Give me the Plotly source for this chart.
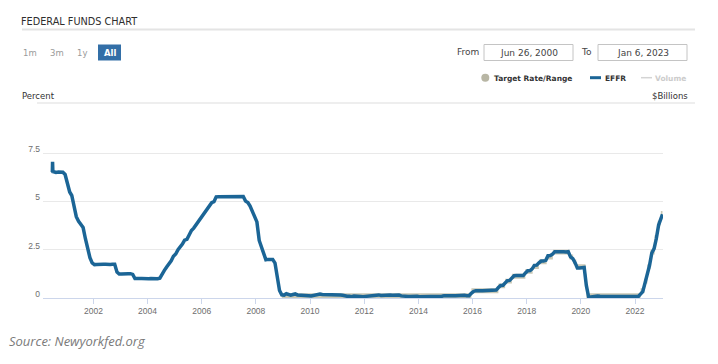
import plotly.graph_objects as go
import pandas as pd

# ---------------- data ----------------
# EFFR: opening days of the series (quarter-end spike)
effr_head_dates = ["2000-06-26", "2000-06-29", "2000-07-03"]
effr_head_values = [6.52, 7.05, 6.55]

# EFFR monthly readings (mid-month), Jul 2000 .. Dec 2022
effr_monthly_first = "2000-07-01"
effr_monthly_values = [
    6.54, 6.50, 6.52, 6.51, 6.51, 6.40,                                   # 2000 Jul-Dec
    5.98, 5.49, 5.31, 4.80, 4.21, 3.97, 3.77, 3.65, 3.07, 2.49, 2.09, 1.82,  # 2001
    1.73, 1.74, 1.73, 1.75, 1.75, 1.75, 1.73, 1.74, 1.75, 1.75, 1.34, 1.24,  # 2002
    1.24, 1.26, 1.25, 1.26, 1.26, 1.22, 1.01, 1.03, 1.01, 1.01, 1.00, 0.98,  # 2003
    1.00, 1.01, 1.00, 1.00, 1.00, 1.03, 1.26, 1.43, 1.61, 1.76, 1.93, 2.16,  # 2004
    2.28, 2.50, 2.63, 2.79, 3.00, 3.04, 3.26, 3.50, 3.62, 3.78, 4.00, 4.16,  # 2005
    4.29, 4.49, 4.59, 4.79, 4.94, 4.99, 5.24, 5.25, 5.25, 5.25, 5.25, 5.24,  # 2006
    5.25, 5.26, 5.26, 5.25, 5.25, 5.25, 5.26, 5.02, 4.94, 4.76, 4.49, 4.24,  # 2007
    3.94, 2.98, 2.61, 2.28, 1.98, 2.00, 2.01, 2.00, 1.81, 0.97, 0.39, 0.16,  # 2008
    0.15, 0.22, 0.18, 0.15, 0.18, 0.21, 0.16, 0.16, 0.15, 0.12, 0.12, 0.12,  # 2009
    0.11, 0.13, 0.16, 0.20, 0.20, 0.18, 0.18, 0.19, 0.19, 0.19, 0.19, 0.18,  # 2010
    0.17, 0.16, 0.14, 0.10, 0.09, 0.09, 0.07, 0.10, 0.08, 0.07, 0.08, 0.07,  # 2011
    0.08, 0.10, 0.13, 0.14, 0.16, 0.16, 0.16, 0.13, 0.14, 0.16, 0.16, 0.16,  # 2012
    0.14, 0.15, 0.14, 0.15, 0.11, 0.09, 0.09, 0.08, 0.08, 0.09, 0.08, 0.09,  # 2013
    0.07, 0.07, 0.08, 0.09, 0.09, 0.10, 0.09, 0.09, 0.09, 0.09, 0.09, 0.12,  # 2014
    0.11, 0.11, 0.11, 0.12, 0.12, 0.13, 0.13, 0.14, 0.14, 0.12, 0.12, 0.24,  # 2015
    0.34, 0.38, 0.36, 0.37, 0.37, 0.38, 0.39, 0.40, 0.40, 0.40, 0.41, 0.54,  # 2016
    0.65, 0.66, 0.79, 0.90, 0.91, 1.04, 1.15, 1.16, 1.15, 1.15, 1.16, 1.30,  # 2017
    1.41, 1.42, 1.51, 1.69, 1.70, 1.82, 1.91, 1.91, 1.95, 2.19, 2.20, 2.27,  # 2018
    2.40, 2.40, 2.41, 2.42, 2.39, 2.38, 2.40, 2.13, 2.04, 1.83, 1.55, 1.55,  # 2019
    1.55, 1.58, 0.65, 0.05, 0.05, 0.08, 0.09, 0.10, 0.09, 0.09, 0.09, 0.09,  # 2020
    0.09, 0.08, 0.07, 0.07, 0.06, 0.08, 0.10, 0.09, 0.08, 0.08, 0.08, 0.08,  # 2021
    0.08, 0.08, 0.20, 0.33, 0.77, 1.21, 1.68, 2.33, 2.56, 3.08, 3.78, 4.10,  # 2022
]
effr_tail_dates = ["2023-01-06"]
effr_tail_values = [4.33]

# Target rate / range (step changes)
target_dates = [
    "2000-06-26", "2001-01-03", "2001-01-31", "2001-03-20", "2001-04-18", "2001-05-15",
    "2001-06-27", "2001-08-21", "2001-09-17", "2001-10-02", "2001-11-06", "2001-12-11",
    "2002-11-06", "2003-06-25", "2004-06-30", "2004-08-10", "2004-09-21", "2004-11-10",
    "2004-12-14", "2005-02-02", "2005-03-22", "2005-05-03", "2005-06-30", "2005-08-09",
    "2005-09-20", "2005-11-01", "2005-12-13", "2006-01-31", "2006-03-28", "2006-05-10",
    "2006-06-29", "2007-09-18", "2007-10-31", "2007-12-11", "2008-01-22", "2008-01-30",
    "2008-03-18", "2008-04-30", "2008-10-08", "2008-10-29", "2008-12-16", "2015-12-17",
    "2016-12-15", "2017-03-16", "2017-06-15", "2017-12-14", "2018-03-22", "2018-06-14",
    "2018-09-27", "2018-12-20", "2019-08-01", "2019-09-19", "2019-10-31", "2020-03-04",
    "2020-03-16", "2022-03-17", "2022-05-05", "2022-06-16", "2022-07-28", "2022-09-22",
    "2022-11-03", "2022-12-15", "2023-01-06",
]
target_low = [
    6.50, 6.00, 5.50, 5.00, 4.50, 4.00, 3.75, 3.50, 3.00, 2.50, 2.00, 1.75,
    1.25, 1.00, 1.25, 1.50, 1.75, 2.00, 2.25, 2.50, 2.75, 3.00, 3.25, 3.50,
    3.75, 4.00, 4.25, 4.50, 4.75, 5.00, 5.25, 4.75, 4.50, 4.25, 3.50, 3.00,
    2.25, 2.00, 1.50, 1.00, 0.00, 0.25, 0.50, 0.75, 1.00, 1.25, 1.50, 1.75,
    2.00, 2.25, 2.00, 1.75, 1.50, 1.00, 0.00, 0.25, 0.75, 1.50, 2.25, 3.00,
    3.75, 4.25, 4.25,
]
target_high = [
    6.50, 6.00, 5.50, 5.00, 4.50, 4.00, 3.75, 3.50, 3.00, 2.50, 2.00, 1.75,
    1.25, 1.00, 1.25, 1.50, 1.75, 2.00, 2.25, 2.50, 2.75, 3.00, 3.25, 3.50,
    3.75, 4.00, 4.25, 4.50, 4.75, 5.00, 5.25, 4.75, 4.50, 4.25, 3.50, 3.00,
    2.25, 2.00, 1.50, 1.00, 0.25, 0.50, 0.75, 1.00, 1.25, 1.50, 1.75, 2.00,
    2.25, 2.50, 2.25, 2.00, 1.75, 1.25, 0.25, 0.50, 1.00, 1.75, 2.50, 3.25,
    4.00, 4.50, 4.50,
]

x_tick_years = [2002, 2004, 2006, 2008, 2010, 2012, 2014, 2016, 2018, 2020, 2022]
y_tick_values = [0, 2.5, 5, 7.5]
y_tick_labels = ["0", "2.5", "5", "7.5"]

range_buttons = ["1m", "3m", "1y", "All"]
from_date_text = "Jun 26, 2000"
to_date_text = "Jan 6, 2023"

# ---------------- build series ----------------
monthly_dates = (pd.date_range(effr_monthly_first, periods=len(effr_monthly_values), freq="MS")
                 + pd.Timedelta(days=14)).strftime("%Y-%m-%d").tolist()
effr_dates = effr_head_dates + monthly_dates + effr_tail_dates
effr_values = effr_head_values + effr_monthly_values + effr_tail_values

BLUE = "#1b6596"
BAND = "#c9c8b6"

fig = go.Figure()
fig.add_trace(go.Scatter(x=target_dates, y=target_low, mode="lines", line=dict(color=BAND, width=0, shape="hv"),
                         name="Target Rate/Range low", showlegend=False, hoverinfo="skip"))
fig.add_trace(go.Scatter(x=target_dates, y=target_high, mode="lines", line=dict(color=BAND, width=0, shape="hv"),
                         fill="tonexty", fillcolor=BAND, name="Target Rate/Range", showlegend=False))
fig.add_trace(go.Scatter(x=effr_dates, y=effr_values, mode="lines", line=dict(color=BLUE, width=3.5),
                         name="EFFR", showlegend=False))

# ---------------- layout geometry (page pixels) ----------------
PAGE_OFF = 8                     # default body margin of the page
W_FIG, H_FIG = 718 - PAGE_OFF, 364 - PAGE_OFF
L, R, T, B = 43, 663, 103, 298   # plot area in page pixels
PW, PH = R - L, B - T


def px(x):
    return (x - L) / PW


def py(y):
    return (B - y) / PH


UI_FONT = "DejaVu Sans, Verdana, sans-serif"
ann = []


def text(x, y, s, size=9, color="#333333", anchor="left", family=UI_FONT, weight=None, italic=False):
    f = dict(size=size, color=color, family=family)
    if weight:
        f["weight"] = weight
    if italic:
        f["style"] = "italic"
    ann.append(dict(x=px(x), y=py(y), xref="paper", yref="paper", text=s, showarrow=False,
                    xanchor=anchor, yanchor="middle", font=f, borderpad=0, borderwidth=0))


shapes = []


def line(x0, y0, x1, y1, color, width):
    shapes.append(dict(type="line", xref="paper", yref="paper", x0=px(x0), x1=px(x1), y0=py(y0), y1=py(y1),
                       line=dict(color=color, width=width)))


def rect(x0, y0, x1, y1, fill, lcolor=None, lwidth=0):
    shapes.append(dict(type="rect", xref="paper", yref="paper", x0=px(x0), x1=px(x1), y0=py(y0), y1=py(y1),
                       fillcolor=fill, line=dict(color=lcolor or fill, width=lwidth), layer="below"))


# title
text(21, 21.5, "FEDERAL FUNDS CHART", size=10.8, color="#2e2e2e",
     family="Liberation Sans Narrow, DejaVu Sans Condensed, Arial Narrow, sans-serif")
line(22, 29.5, 695, 29.5, "#e4e4e4", 2)

# range selector
rect(98, 44.5, 121, 60.5, "#336fa7")
for cx, lab in zip([30, 56.5, 82, 109.5], range_buttons):
    if lab == "All":
        text(cx, 52.5, lab, size=8.5, color="#ffffff", anchor="center", weight="bold")
    else:
        text(cx, 52.5, lab, size=8.5, color="#9a9a9a", anchor="center")

# date inputs
text(467.5, 52, "From", size=9, color="#444444", anchor="center")
rect(484, 44.5, 573, 60.5, "#ffffff", "#c4c4c4", 1)
text(528.5, 52.5, from_date_text, size=9, color="#444444", anchor="center")
text(586.5, 52, "To", size=9, color="#444444", anchor="center")
rect(598, 44.5, 687, 60.5, "#ffffff", "#c4c4c4", 1)
text(642.5, 52.5, to_date_text, size=9, color="#444444", anchor="center")

# legend
shapes.append(dict(type="circle", xref="paper", yref="paper", x0=px(481.3), x1=px(489.3), y0=py(73.7), y1=py(81.7),
                   fillcolor="#b8b6a4", line=dict(width=0)))
text(494, 78, "Target Rate/Range", size=7.5, color="#333333", weight="bold")
line(590, 77.7, 601, 77.7, BLUE, 3)
text(605, 78, "EFFR", size=7.5, color="#333333", weight="bold")
line(641, 77.7, 652, 77.7, "#d4d4d4", 1.5)
text(655, 78, "Volume", size=7.5, color="#cccccc", weight="bold")

# axis titles
text(22, 96, "Percent", size=8.5, color="#333333")
text(688, 96, "$Billions", size=8.5, color="#333333", anchor="right")
line(37, 103, 695, 103, "#e8e8e8", 1.5)

# source
text(9, 341, "Source: Newyorkfed.org", size=13, color="#7a7a7a",
     family="Open Sans, sans-serif", italic=True)

TICK_FONT = dict(family="Liberation Sans, Arial, sans-serif", size=8.5, color="#6e6e6e")

fig.update_layout(
    width=W_FIG, height=H_FIG,
    margin=dict(l=L - PAGE_OFF, r=W_FIG - (R - PAGE_OFF), t=T - PAGE_OFF, b=H_FIG - (B - PAGE_OFF), pad=0),
    paper_bgcolor="white", plot_bgcolor="white",
    showlegend=False,
    annotations=ann, shapes=shapes,
    xaxis=dict(type="date", range=["2000-02-21", "2023-01-13"],
               tickvals=[f"{y}-01-01" for y in x_tick_years], ticktext=[str(y) for y in x_tick_years],
               ticks="outside", ticklen=5, tickcolor="#ccd6eb", tickwidth=1,
               showline=True, linecolor="#ccd6eb", linewidth=1, showgrid=False, zeroline=False,
               tickfont=TICK_FONT),
    yaxis=dict(range=[0, 10.1], tickvals=y_tick_values, ticktext=y_tick_labels,
               showgrid=True, gridcolor="#e9e9e9", gridwidth=1, zeroline=False, showline=False,
               ticks="", ticklabelstandoff=2, ticklabelshift=-4, tickfont=TICK_FONT),
)

fig.write_html("out.html")
